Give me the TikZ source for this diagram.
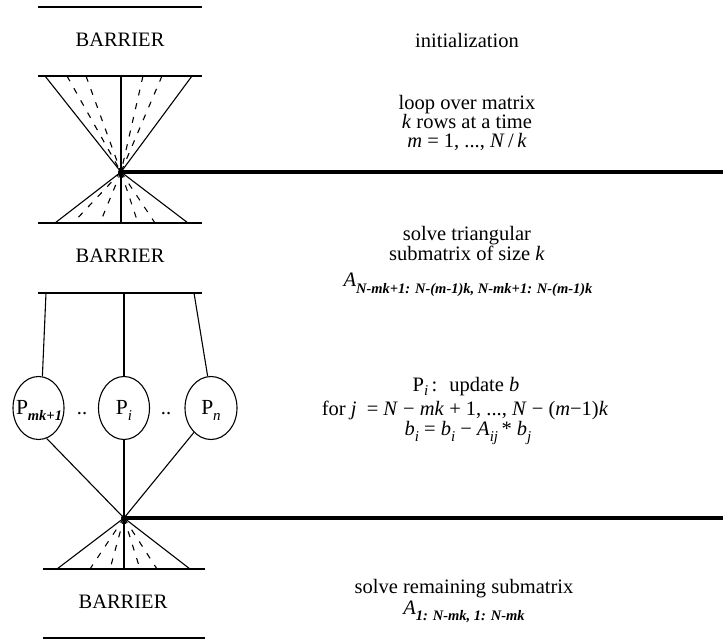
\documentclass[tikz,border=0pt]{standalone}
\usepackage{fontspec}
\setmainfont{Liberation Serif}
\usetikzlibrary{shapes.geometric}
\newcommand\lowsub[2][6pt]{\raisebox{-#1}{\fontsize{15}{15}\selectfont #2}}
\newcommand\bisub[2][7pt]{\raisebox{-#1}{\fontsize{14.5}{15}\selectfont\bfseries\itshape #2}}
\begin{document}
\begin{tikzpicture}[x=1pt,y=-1pt,
  thinln/.style={line width=1.1pt},
  dashln/.style={line width=1.1pt, dash pattern=on 6pt off 8pt},
  thickln/.style={line width=4.5pt},
  lbl/.style={font=\fontsize{20.5}{22}\selectfont, anchor=base, inner sep=0pt},
  plbl/.style={lbl, font=\fontsize{21.5}{22}\selectfont},
  proc/.style={draw, ellipse, line width=1.1pt, minimum width=51pt, minimum height=63pt, inner sep=0pt},
  hubdot/.style={circle, fill=black, inner sep=0pt, minimum size=6pt},
]
\useasboundingbox[fill=white] (0,0) rectangle (723,639);

% ---------- top barrier ----------
\draw[thinln] (38,7) -- (202,7);
\node[lbl] (bar1) at (120,47) {BARRIER};
\draw[thinln] (38,76) -- (202,76);

% hub 1
\node[hubdot] (hub1) at (121,172) {};
\coordinate (r1) at (723,172);
\draw[thickln] (hub1.center) -- (r1);

% top funnel
\foreach \x in {45,121,192} \draw[thinln] (\x,76) -- (hub1.center);
\foreach \x in {67,86,143,162} \draw[dashln] (\x,76) -- (hub1.center);
% lower funnel
\draw[thinln] (38,223) -- (202,223);
\foreach \x in {55,121,188} \draw[thinln] (hub1.center) -- (\x,223);
\foreach \x in {73,100,138,155} \draw[dashln] (hub1.center) -- (\x,223);

% ---------- second barrier ----------
\node[lbl] (bar2) at (120,262) {BARRIER};
\draw[thinln] (38,293) -- (202,293);

% processes
\node[proc] (p1) at (38.5,408) {};
\node[proc] (p2) at (124,408) {};
\node[proc, minimum width=52pt] (p3) at (211,408) {};
\node[plbl] at (39,414) {P\bisub[6pt]{mk+1}};
\node[plbl] at (124,414) {P\lowsub[6pt]{\itshape i}};
\node[plbl] at (211,414) {P\lowsub[6pt]{\itshape n}};
\node[lbl] (d1) at (82,414) {..};
\node[lbl] (d2) at (166,414) {..};

\draw[thinln] (46,293) -- (p1.83);
\draw[thinln] (124,293) -- (p2.north);
\draw[thinln] (194,293) -- (p3.96);

% hub 2
\node[hubdot] (hub2) at (124,518) {};
\coordinate (r2) at (723,518);
\draw[thickln] (hub2.center) -- (r2);
\draw[thinln] (p1.-75) -- (hub2.center);
\draw[thinln] (p2.south) -- (hub2.center);
\draw[thinln] (p3.-125) -- (hub2.center);

% bottom funnel
\draw[thinln] (43,569) -- (205,569);
\foreach \x in {57,124,190} \draw[thinln] (hub2.center) -- (\x,569);
\foreach \x in {90,110,140,157} \draw[dashln] (hub2.center) -- (\x,569);

% ---------- bottom barrier ----------
\node[lbl] (bar3) at (123,608) {BARRIER};
\draw[thinln] (43,638) -- (205,638);

% ---------- right-hand texts ----------
\node[lbl] (t1) at (467,48) {initialization};
\node[lbl] (t2) at (467,110) {loop over matrix};
\node[lbl] (t3) at (467,129) {\textit{k} rows at a time};
\node[lbl] (t4) at (467,148) {\textit{m} = 1, ..., \textit{N}\,/\,\textit{k}};

\node[lbl] (t5) at (467,241) {solve triangular};
\node[lbl] (t6) at (467,261) {submatrix of size \textit{k}};
\node[lbl] (t7) at (468,286) {\textit{A}\bisub{N-mk+1: N-(m-1)k, N-mk+1: N-(m-1)k}};

\node[lbl] (t8) at (466,391) {P\lowsub[4pt]{\itshape i}\,: \ update \textit{b}};
\node[lbl] (t9) at (465,415) {for \textit{j} \ = \textit{N} − \textit{mk} + 1, ..., \textit{N} − (\textit{m}−1)\textit{k}};
\node[lbl] (t10) at (468,435) {\textit{b}\lowsub{\itshape i} = \textit{b}\lowsub{\itshape i} − \textit{A}\lowsub{\itshape ij}\,* \textit{b}\lowsub{\itshape j}};

\node[lbl] (t11) at (464,593) {solve remaining submatrix};
\node[lbl] (t12) at (464,614) {\textit{A}\bisub[6pt]{1: N-mk, 1: N-mk}};
\end{tikzpicture}
\end{document}
